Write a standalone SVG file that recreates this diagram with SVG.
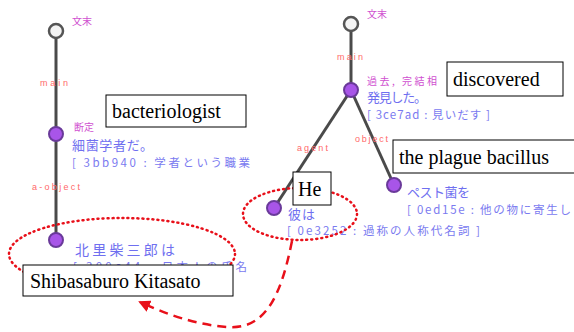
<svg xmlns="http://www.w3.org/2000/svg" width="574" height="332" viewBox="0 0 574 332">
<style>
.edge{stroke:#4a4a4a;stroke-width:3;fill:none}
.open{fill:#f4f4f4;stroke:#555;stroke-width:2.5}
.node{fill:#a855e8;stroke:#6a3a9a;stroke-width:2}
.lbl{font-family:"Noto Sans CJK JP","Noto Sans",sans-serif;font-size:10px;fill:#d050d0}
.rel{font-family:"Liberation Sans",sans-serif;font-size:9px;fill:#ff6a6a}
.jp{font-family:"Noto Sans CJK JP",sans-serif;font-size:13px;fill:#6f6ff0}
.big{font-size:14px}
.id{font-family:"Noto Sans CJK JP",sans-serif;font-size:11.5px;fill:#7a7af0}
.box{fill:#fff;stroke:#000;stroke-width:1}
.en{font-family:"Liberation Serif",serif;font-size:20px;fill:#000}
.dot{fill:none;stroke:#e8101a;stroke-width:2.5;stroke-dasharray:1 4;stroke-linecap:round}
.dash{fill:none;stroke:#e8101a;stroke-width:2.5;stroke-dasharray:9 6}
</style>
<defs>
<marker id="ah" markerWidth="12" markerHeight="12" refX="10" refY="6" orient="auto" markerUnits="userSpaceOnUse">
<path d="M0,0 L12,6 L0,12 Z" fill="#e8101a"/>
</marker>
</defs>
<g id="connectors">
<line class="edge" x1="56" y1="38" x2="56" y2="240"/>
<line class="edge" x1="351" y1="31" x2="351" y2="90"/>
<line class="edge" x1="351" y1="90" x2="274" y2="208"/>
<line class="edge" x1="351" y1="90" x2="394" y2="185"/>
<text class="rel" x="40" y="86" textLength="28" lengthAdjust="spacing">main</text>
<text class="rel" x="32" y="190" textLength="48" lengthAdjust="spacing">a-object</text>
<text class="rel" x="337" y="60" textLength="26" lengthAdjust="spacing">main</text>
<text class="rel" x="297" y="151" textLength="31" lengthAdjust="spacing">agent</text>
<text class="rel" x="355" y="142" textLength="33" lengthAdjust="spacing">object</text>
</g>
<g id="n-root1">
<circle class="open" cx="56" cy="31" r="7"/>
<text class="lbl" x="72" y="25">文末</text>
</g>
<g id="n-bacteriologist">
<circle class="node" cx="56" cy="134" r="7"/>
<text class="lbl" x="74" y="131">断定</text>
<text class="jp" x="72" y="150" textLength="81" lengthAdjust="spacing">細菌学者だ。</text>
<text class="id" x="72" y="167" textLength="178" lengthAdjust="spacing">[ 3bb940 : 学者という職業</text>
</g>
<g id="n-kitasato">
<circle class="node" cx="56" cy="240" r="7"/>
<text class="jp big" x="75" y="255" textLength="100" lengthAdjust="spacing">北里柴三郎は</text>
<text class="id" x="73" y="271" textLength="174" lengthAdjust="spacing">[ 300c44 : 日本人の氏名</text>
</g>
<g id="n-root2">
<circle class="open" cx="351" cy="24" r="7"/>
<text class="lbl" x="367" y="18">文末</text>
</g>
<g id="n-discovered">
<circle class="node" cx="351" cy="90" r="7"/>
<text class="lbl" x="367" y="85" textLength="70" lengthAdjust="spacing">過去, 完結相</text>
<text class="jp" x="367" y="102" textLength="60" lengthAdjust="spacing">発見した。</text>
<text class="id" x="367" y="119" textLength="123" lengthAdjust="spacing">[ 3ce7ad : 見いだす ]</text>
</g>
<g id="n-he">
<circle class="node" cx="274" cy="208" r="7"/>
<text class="jp" x="288" y="219" textLength="27" lengthAdjust="spacing">彼は</text>
<text class="id" x="287" y="235" textLength="193" lengthAdjust="spacing">[ 0e3252 : 過称の人称代名詞 ]</text>
</g>
<g id="n-plague">
<circle class="node" cx="394" cy="185" r="7"/>
<text class="jp" x="407" y="197" textLength="63" lengthAdjust="spacing">ペスト菌を</text>
<text class="id" x="407" y="214" textLength="164" lengthAdjust="spacing">[ 0ed15e : 他の物に寄生し</text>
</g>
<g id="annotations">
<ellipse class="dot" cx="122" cy="254" rx="113" ry="36"/>
<ellipse class="dot" cx="300" cy="214" rx="57" ry="26"/>
<path class="dash" d="M292,241 C282,290 268,330 228,327 C196,325 166,314 140,302" marker-end="url(#ah)"/>
</g>
<g id="b-bacteriologist">
<rect class="box" x="106" y="95" width="140" height="32"/>
<text class="en" x="112" y="118">bacteriologist</text>
</g>
<g id="b-kitasato">
<rect class="box" x="23" y="265" width="210" height="31"/>
<text class="en" x="30" y="288">Shibasaburo Kitasato</text>
</g>
<g id="b-discovered">
<rect class="box" x="447" y="62" width="116" height="34"/>
<text class="en" x="453" y="86">discovered</text>
</g>
<g id="b-plague">
<rect class="box" x="393" y="140" width="185" height="33"/>
<text class="en" x="399" y="164">the plague bacillus</text>
</g>
<g id="b-he">
<rect class="box" x="293" y="172" width="38" height="33"/>
<text class="en" x="298" y="196">He</text>
</g>
</svg>
